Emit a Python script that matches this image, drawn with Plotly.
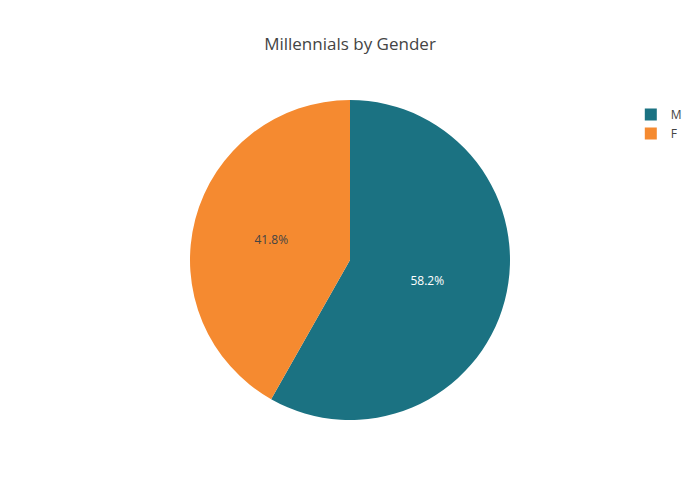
import plotly.graph_objects as go

labels = ['M', 'F']
values = [58.2, 41.8]
colors = ['#1b7282', '#f58a30']

fig = go.Figure(go.Pie(
    labels=labels,
    values=values,
    marker=dict(colors=colors),
    sort=False,
    textinfo='percent'))

fig.update_layout(
    template='none',
    title=dict(text='Millennials by Gender', x=0.5, xref='paper', y=0.94,
               font=dict(color='#444', size=17)),
    font=dict(family='"Open Sans", verdana, arial, sans-serif', color='#444'),
    width=700,
    height=500,
    margin=dict(l=72, r=88, t=92, b=88, autoexpand=False),
    legend=dict(x=1.02, y=1.0),
    showlegend=True)

fig.write_html("out.html")
